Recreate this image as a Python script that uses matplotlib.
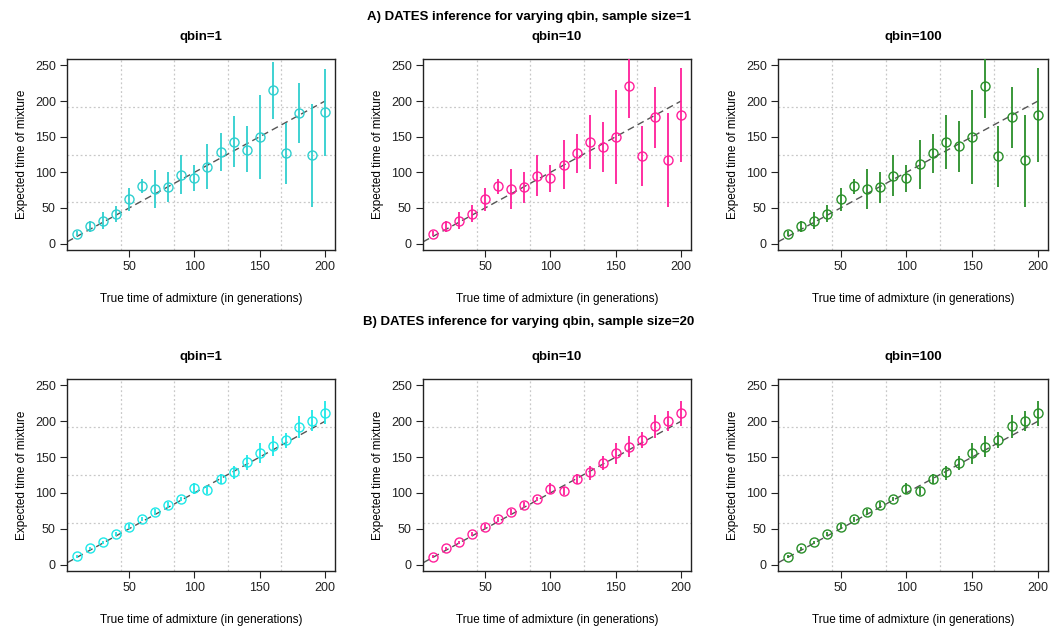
import numpy as np
import matplotlib.pyplot as plt

plt.rcParams['font.family'] = ['Liberation Sans', 'DejaVu Sans']

# --- data ---
true_time = [10, 20, 30, 40, 50, 60, 70, 80, 90, 100,
             110, 120, 130, 140, 150, 160, 170, 180, 190, 200]

# A) sample size = 1
a_q1_est = [14, 24, 32, 41.5, 62, 80.7, 76, 79, 96, 92,
            107.5, 128, 143, 132, 149.5, 215, 127, 183.5, 123.6, 184.4]
a_q1_lo = [10, 15.6, 20, 30, 46, 71, 50, 58, 69, 73.6,
           76, 102, 107.5, 100, 90.6, 175, 84, 141.5, 51, 123]
a_q1_hi = [18, 32, 44, 53, 78, 91, 103, 100, 124, 110,
           140, 155, 179, 165, 208.5, 255, 169, 225.5, 196, 245]

a_q10_est = [14, 24, 32, 42, 62, 81, 76, 79, 95, 91.5,
             110, 127, 143, 136, 150, 221, 123, 178, 117, 181]
a_q10_lo = [10, 16, 20, 30, 46, 70, 48, 57, 66.5, 72.6,
            76, 99, 105, 101, 84, 176, 80.6, 134, 52, 114]
a_q10_hi = [18, 32, 44, 54, 78, 91, 104, 100, 124, 110,
            145, 154, 181, 171, 215, 262, 165, 220, 183, 247]

a_q100_est = [14, 24, 32, 42, 62, 81, 76, 79, 95, 91.5,
              111, 127, 143, 137, 150, 221, 123, 178, 117, 181]
a_q100_lo = [10, 16, 20, 30, 46, 70, 48, 57, 66.5, 72.6,
             76, 99, 105, 101, 83, 176, 80, 134, 52, 114]
a_q100_hi = [18, 32, 44, 54, 78, 91, 104, 100, 124, 110,
             145, 154, 181, 172, 216, 262, 165, 220, 181, 247]

# B) sample size = 20
b_q1_est = [11.3, 22.6, 31, 43, 53, 63.5, 73.5, 83, 91, 106.4,
            104, 120, 128.5, 143, 156, 166, 174, 192.6, 201, 212]
b_q1_lo = [9, 20, 28.5, 40, 50, 60.5, 69.5, 79, 88, 98,
           99, 112.5, 119, 132, 142, 152, 163, 177, 186, 196]
b_q1_hi = [13.5, 25, 33.5, 46, 56, 66.5, 77.5, 87, 94, 114,
           109, 126.6, 138, 153.5, 170, 180, 184, 207.6, 215.6, 228]

b_q10_est = [11, 22.5, 31, 43, 53, 63, 73, 83, 91, 106,
             103, 119, 129, 142, 155, 164, 174, 193, 201, 211]
b_q10_lo = [9, 20, 28.5, 40, 50, 60, 69, 79, 88, 98,
            97, 112, 118, 132, 141, 150, 162, 177, 186, 194]
b_q10_hi = [13, 25, 33.5, 46, 56, 66, 77, 87, 94, 114,
            108, 126, 137, 152, 169, 179, 185, 209, 215, 228]

b_q100_est = b_q10_est
b_q100_lo = b_q10_lo
b_q100_hi = b_q10_hi

qbin_titles = ['qbin=1', 'qbin=10', 'qbin=100']
row_titles = ['A) DATES inference for varying qbin, sample size=1',
              'B) DATES inference for varying qbin, sample size=20']
top_colors = ['#2fcfcf', '#ff1f9a', '#2a8f2a']
bottom_colors = ['#1ee8e8', '#ff1f9a', '#2a8f2a']

XLIM = (2.4, 207.6)
YLIM = (-9.0, 259.0)


def draw_panel(ax, est, lo, hi, color, title):
    x = np.array(true_time)
    est = np.array(est)
    ax.vlines(x, lo, hi, color=color, lw=1.3, zorder=3)
    ax.plot(x, est, 'o', mfc='none', mec=color, ms=6.5, mew=1.0, zorder=4)
    ax.plot([XLIM[0], 200], [XLIM[0], 200], ls=(0, (5, 3)),
            color='#555555', lw=1.0, zorder=2)
    ax.set_xlim(*XLIM)
    ax.set_ylim(*YLIM)
    # R style grid(): equally spaced cells over the plot range
    for gx in np.linspace(XLIM[0], XLIM[1], 6)[1:-1]:
        ax.axvline(gx, color='#c8c8c8', lw=0.9, ls=(0, (1.5, 2)), zorder=1)
    for gy in np.linspace(YLIM[0], YLIM[1], 5)[1:-1]:
        ax.axhline(gy, color='#c8c8c8', lw=0.9, ls=(0, (1.5, 2)), zorder=1)
    ax.set_xticks([50, 100, 150, 200])
    ax.set_yticks([0, 50, 100, 150, 200, 250])
    ax.tick_params(labelsize=9, length=5, width=0.8, pad=3,
                   colors='#222222')
    for s in ax.spines.values():
        s.set_color('#222222')
        s.set_linewidth(1.0)
    ax.set_xlabel('True time of admixture (in generations)', fontsize=8.5, labelpad=14)
    ax.set_ylabel('Expected time of mixture', fontsize=8.5, labelpad=5)
    ax.set_title(title, fontsize=9.5, fontweight='bold', pad=14)


fig = plt.figure(figsize=(10.58, 6.31), dpi=100)

lefts = [0.0633, 0.3998, 0.7353]
widths = [0.2533, 0.2533, 0.2552]
top_data = [(a_q1_est, a_q1_lo, a_q1_hi),
            (a_q10_est, a_q10_lo, a_q10_hi),
            (a_q100_est, a_q100_lo, a_q100_hi)]
bottom_data = [(b_q1_est, b_q1_lo, b_q1_hi),
               (b_q10_est, b_q10_lo, b_q10_hi),
               (b_q100_est, b_q100_lo, b_q100_hi)]

for i in range(3):
    ax = fig.add_axes([lefts[i], 0.6038, widths[i], 0.3027])
    draw_panel(ax, *top_data[i], top_colors[i], qbin_titles[i])
    ax = fig.add_axes([lefts[i], 0.0951, widths[i], 0.3043])
    draw_panel(ax, *bottom_data[i], bottom_colors[i], qbin_titles[i])

fig.text(0.5, 1 - 17 / 631, row_titles[0], ha='center', va='center',
         fontsize=9.5, fontweight='bold')
fig.text(0.5, 1 - 322 / 631, row_titles[1], ha='center', va='center',
         fontsize=9.5, fontweight='bold')

fig.savefig('out.png', dpi=100)
